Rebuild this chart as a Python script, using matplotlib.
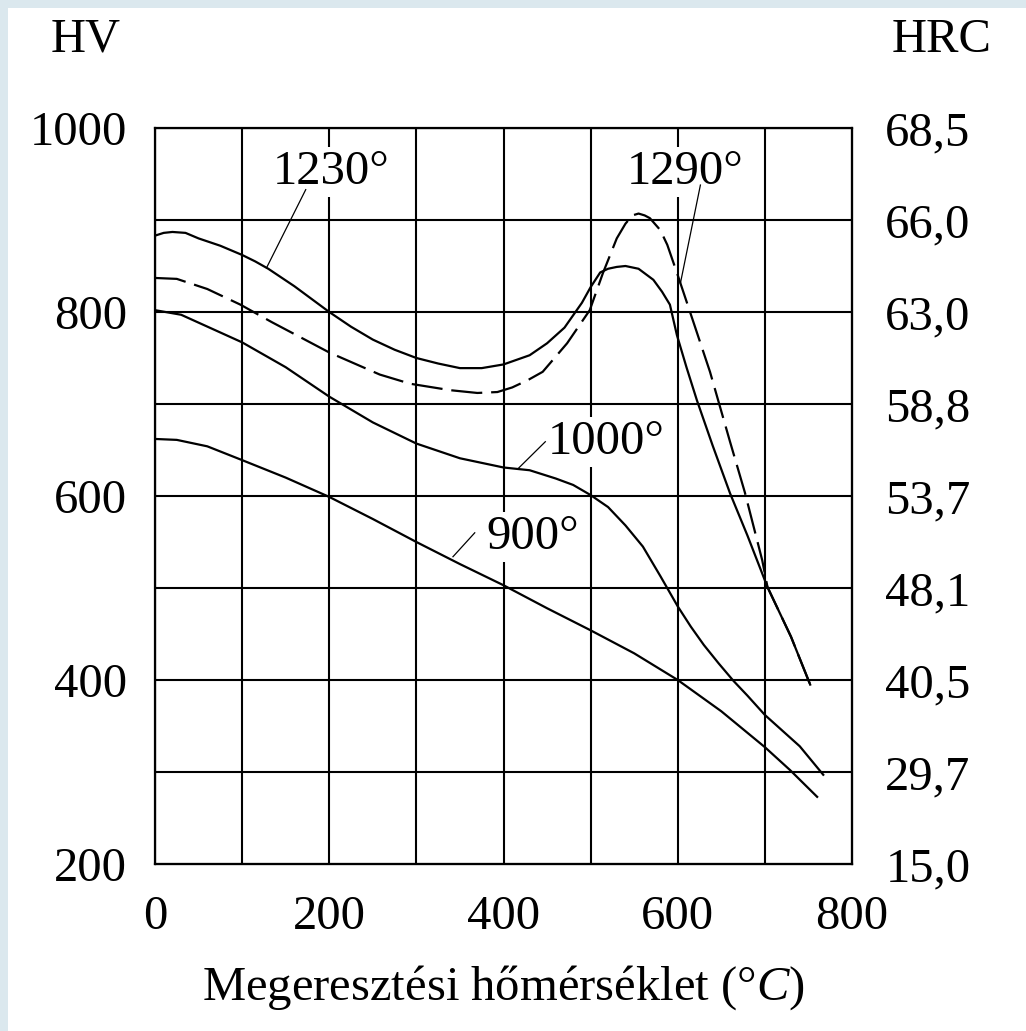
import matplotlib
matplotlib.use("Agg")
import matplotlib.pyplot as plt
from matplotlib.patches import Rectangle

# ----- DATA -----
temp_1230 = [0, 10, 20, 35, 50, 75, 100, 115, 130, 160, 180, 200, 225, 250, 275, 300, 325, 350,
             375, 400, 415, 430, 450, 470, 490, 500, 511, 520, 530, 540, 555, 572, 582, 591, 599,
             610, 622, 640, 660, 680, 703, 730, 752]
hv_1230 = [883, 886, 887, 886, 880, 872, 862, 855, 847, 828, 814, 800, 784, 770, 759, 750, 744, 739,
           739, 743, 748, 753, 766, 783, 810, 827, 843, 847, 849, 850, 847, 835, 822, 808, 775,
           740, 704, 655, 603, 557, 501, 447, 395]

temp_1290 = [0, 25, 60, 98, 134, 152, 200, 258, 293, 339, 370, 393, 410, 428, 445, 473, 499, 514,
             530, 540, 548, 555, 562, 568, 580, 588, 600, 618, 637, 660, 677, 697, 703, 730, 752]
hv_1290 = [837, 836, 825, 808, 789, 780, 756, 732, 722, 715, 712, 713, 718, 726, 735, 766, 802, 842,
           880, 896, 905, 907, 905, 902, 889, 873, 840, 789, 735, 659, 604, 530, 501, 447, 395]

temp_1000 = [0, 30, 100, 150, 200, 250, 300, 350, 400, 430, 460, 480, 500, 520, 540, 560, 580, 600,
             615, 630, 647, 664, 680, 700, 740, 767]
hv_1000 = [802, 797, 767, 740, 708, 680, 657, 641, 631, 628, 619, 612, 601, 588, 568, 545, 513, 480,
           458, 438, 418, 399, 383, 362, 328, 297]

temp_900 = [0, 25, 60, 100, 150, 200, 250, 300, 350, 400, 450, 500, 550, 600, 650, 700, 729, 760]
hv_900 = [662, 661, 654, 639, 620, 599, 575, 550, 526, 503, 478, 454, 429, 400, 366, 327, 302, 273]

hv_ticks = [200, 300, 400, 500, 600, 700, 800, 900, 1000]
hv_labels = ["200", "", "400", "", "600", "", "800", "", "1000"]
hrc_labels = ["15,0", "29,7", "40,5", "48,1", "53,7", "58,8", "63,0", "66,0", "68,5"]
x_ticks = [0, 100, 200, 300, 400, 500, 600, 700, 800]
x_labels = ["0", "", "200", "", "400", "", "600", "", "800"]

# curve labels: text, text position, leader line (from, to)
curve_labels = [
    ("1230°", (202, 952), (173, 933), (128, 848)),
    ("1290°", (608, 952), (626, 938), (603, 831)),
    ("1000°", (518, 659), (448, 659), (417, 630)),
    ("900°", (434, 555), (367, 560), (342, 534)),
]

# ----- STYLE -----
plt.rcParams["font.family"] = ["Liberation Serif", "DejaVu Serif"]
plt.rcParams["mathtext.fontset"] = "custom"
plt.rcParams["mathtext.rm"] = "Liberation Serif"
plt.rcParams["mathtext.it"] = "Liberation Serif:italic"
FS = 35
LW = 1.6

fig = plt.figure(figsize=(10.26, 10.31), dpi=100)
fig.patch.set_facecolor("white")
# light blue frame strips (top and left) like the source scan
fig.patches.append(Rectangle((0, 1 - 8 / 1031), 1, 8 / 1031, transform=fig.transFigure,
                             facecolor="#dbe8ee", edgecolor="none", zorder=0))
fig.patches.append(Rectangle((0, 0), 8 / 1026, 1, transform=fig.transFigure,
                             facecolor="#dbe8ee", edgecolor="none", zorder=0))

ax = fig.add_axes([155 / 1026, 167 / 1031, 697 / 1026, 736 / 1031])
ax.set_xlim(0, 800)
ax.set_ylim(200, 1000)

ax.plot(temp_1230, hv_1230, color="black", lw=LW, zorder=4)
ax.plot(temp_1290, hv_1290, color="black", lw=LW, ls=(0, (14, 4)), zorder=4)
ax.plot(temp_1000, hv_1000, color="black", lw=LW, zorder=4)
ax.plot(temp_900, hv_900, color="black", lw=LW, zorder=4)

for txt, pos, p0, p1 in curve_labels:
    ax.text(pos[0], pos[1], txt, fontsize=FS, ha="center", va="center", zorder=3,
            bbox=dict(facecolor="white", edgecolor="none", pad=2))
    ax.plot([p0[0], p1[0]], [p0[1], p1[1]], color="black", lw=0.9, zorder=4)

ax.set_xticks(x_ticks)
ax.set_xticklabels(x_labels)
ax.set_yticks(hv_ticks)
ax.set_yticklabels(hv_labels)
ax.grid(True, color="black", lw=1.5)
ax.set_axisbelow(True)
ax.tick_params(length=0, labelsize=FS)
ax.tick_params(axis="x", pad=22)
ax.tick_params(axis="y", pad=20)
for s in ax.spines.values():
    s.set_linewidth(1.6)

ax2 = ax.twinx()
ax2.set_ylim(200, 1000)
ax2.set_yticks(hv_ticks)
ax2.set_yticklabels(hrc_labels)
ax2.tick_params(length=0, labelsize=FS, pad=24)

ax.set_xlabel("Megeresztési hőmérséklet (°$C$)", fontsize=FS, labelpad=18)
ax.text(-0.099, 1.12, "HV", transform=ax.transAxes, fontsize=FS, ha="center", va="center")
ax.text(1.129, 1.12, "HRC", transform=ax.transAxes, fontsize=FS, ha="center", va="center")

fig.savefig("out.png", dpi=100)
